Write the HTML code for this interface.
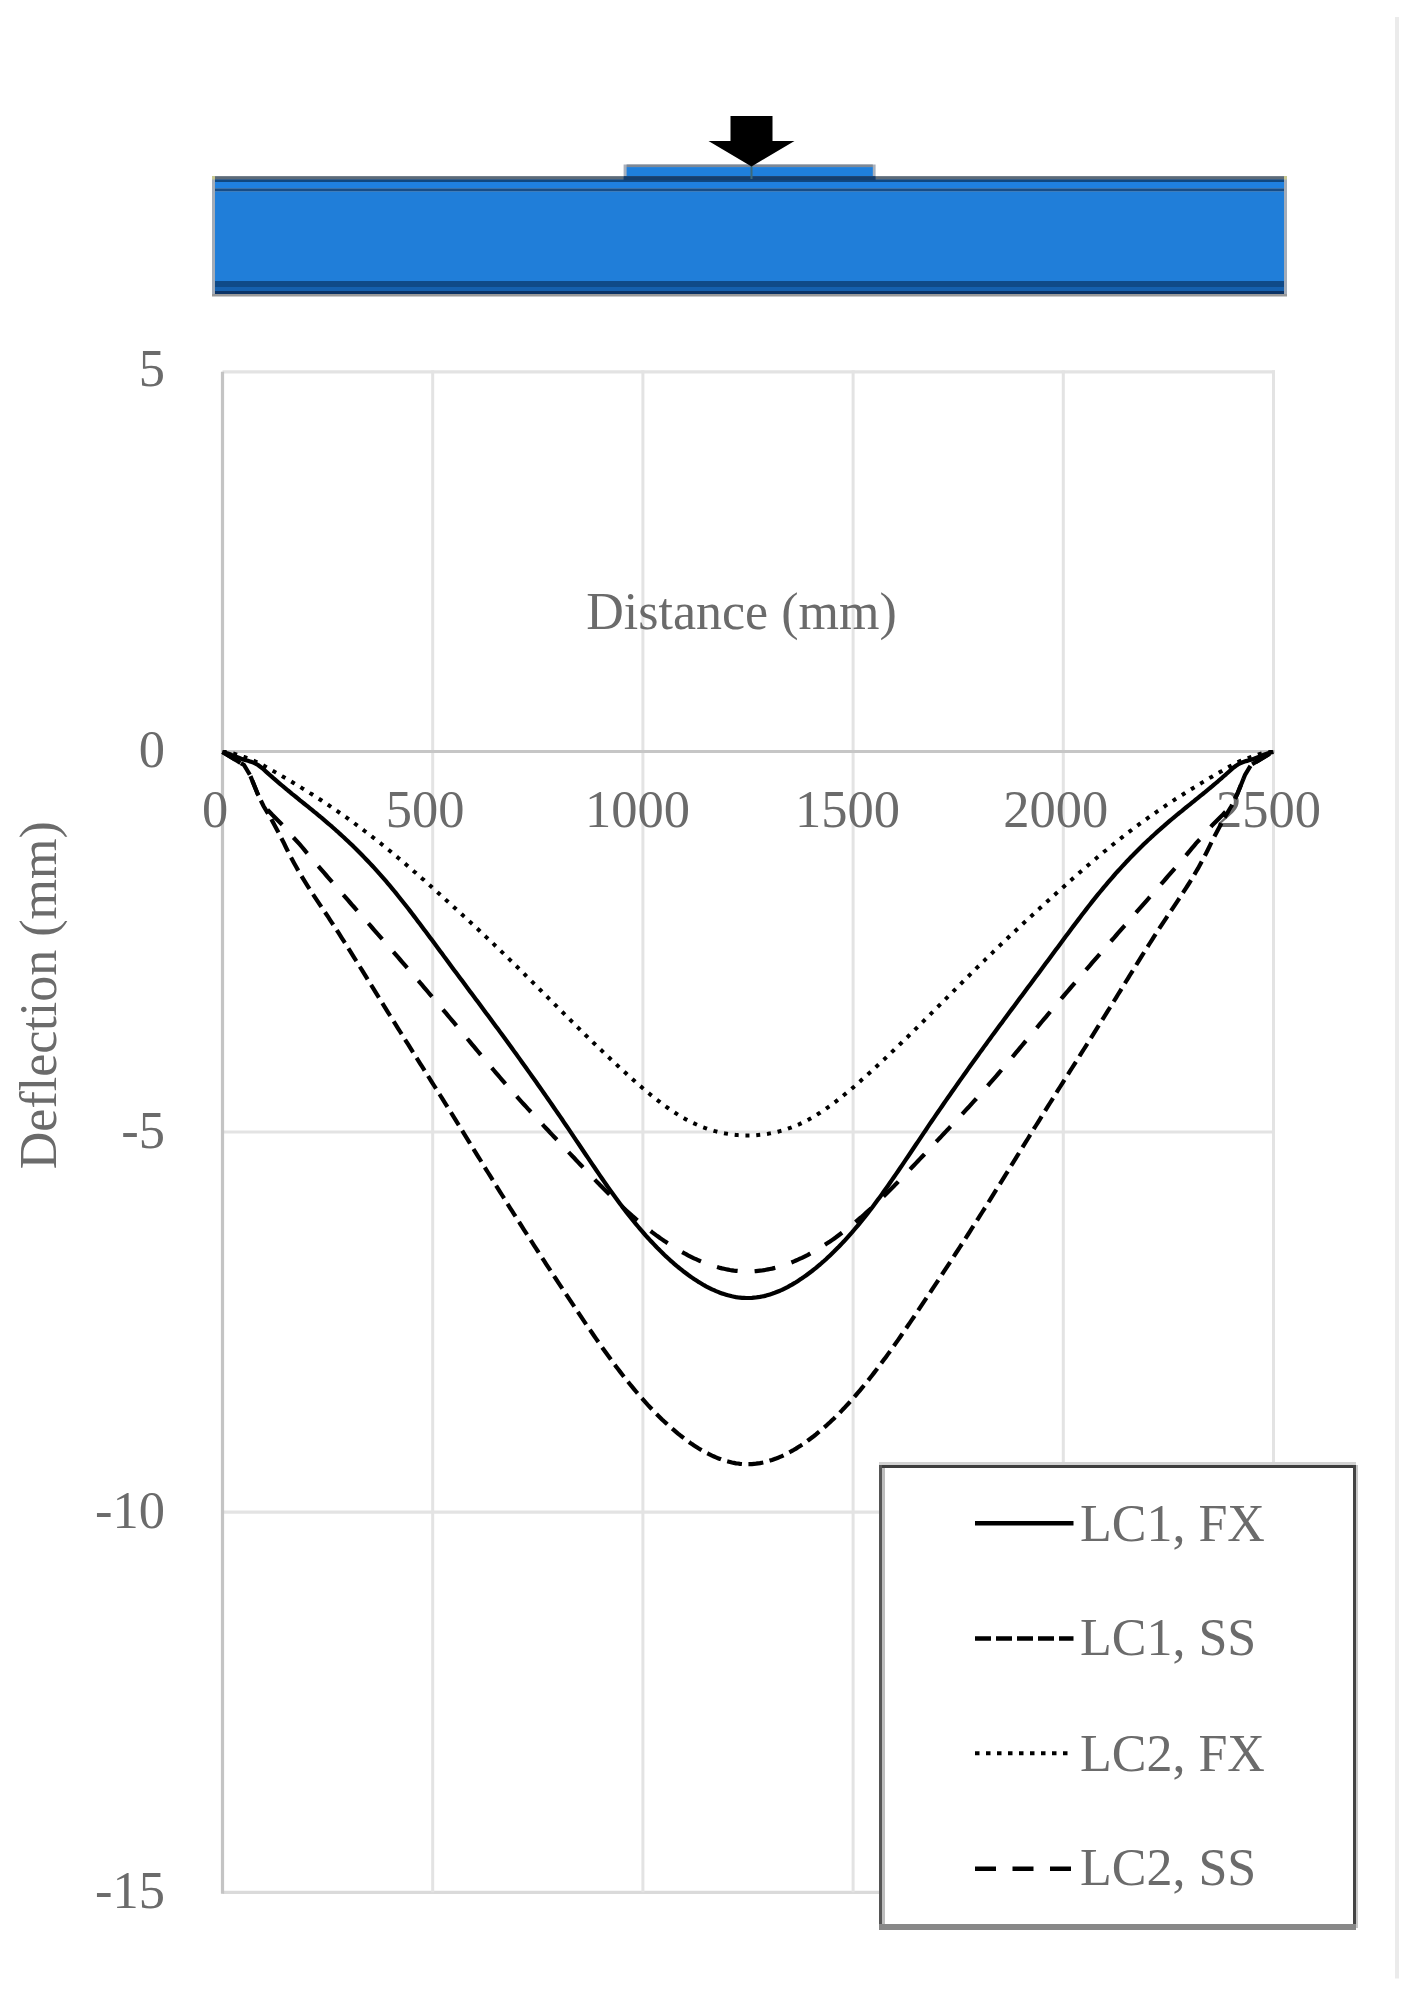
<!DOCTYPE html>
<html><head><meta charset="utf-8"><style>
html,body{margin:0;padding:0;background:#fff;}
body{width:1410px;height:1997px;overflow:hidden;}
svg{display:block;}
text{font-family:"Liberation Serif",serif;font-size:52px;fill:#6b6b6b;font-variant-ligatures:none;font-feature-settings:"liga" 0,"kern" 1;}
.ax{font-size:52.5px;}
</style></head><body>
<svg width="1410" height="1997" viewBox="0 0 1410 1997">
<rect width="1410" height="1997" fill="#fff"/>
<rect x="1395" y="17" width="4" height="1961.5" fill="#ebebeb"/>

<g>
<rect x="212" y="176" width="1075" height="120" fill="#a3acb8"/>
<rect x="215" y="176.3" width="1069" height="3" fill="#5d6b78"/>
<rect x="215" y="179.3" width="1069" height="2.7" fill="#10477f"/>
<rect x="215" y="182" width="1069" height="6.5" fill="#1f80e0"/>
<rect x="215" y="188.5" width="1069" height="3" fill="#174c86"/>
<rect x="215" y="191.5" width="1069" height="89.5" fill="#207ed9"/>
<rect x="215" y="281" width="1069" height="6" fill="#0f4a88"/>
<rect x="215" y="287" width="1069" height="4" fill="#1560ae"/>
<rect x="215" y="291" width="1069" height="3" fill="#0b3366"/>
<rect x="212" y="294" width="1075" height="2.5" fill="#999999"/>
<rect x="212" y="176" width="3" height="3.5" fill="#c8c890"/>
<rect x="1284" y="176" width="3" height="3.5" fill="#c8c890"/>
<rect x="623.6" y="164.5" width="252" height="12" fill="#a8b0bc"/>
<rect x="626.6" y="164.5" width="246.2" height="2.6" fill="#7d8896"/>
<rect x="626.6" y="167.1" width="246.2" height="9" fill="#1f7fdc"/>
<rect x="623.6" y="176.1" width="252" height="4" fill="#143e6e"/>
<rect x="750.5" y="166" width="2" height="13" fill="#3d6a7a"/>
<path d="M730.5,116 H772.5 V141 H794.5 L751.5,166.5 L708.5,141 H730.5 Z" fill="#000"/>
</g>
<line x1="222.5" y1="371.8" x2="1275.0" y2="371.8" stroke="#e3e3e3" stroke-width="3.2"/>
<line x1="222.5" y1="1132.0" x2="1275.0" y2="1132.0" stroke="#e3e3e3" stroke-width="3.2"/>
<line x1="222.5" y1="1512.2" x2="1275.0" y2="1512.2" stroke="#e3e3e3" stroke-width="3.2"/>
<line x1="222.5" y1="1892.3" x2="1275.0" y2="1892.3" stroke="#dadada" stroke-width="3.2"/>
<line x1="432.7" y1="370.3" x2="432.7" y2="1892.3" stroke="#e3e3e3" stroke-width="3"/>
<line x1="642.9" y1="370.3" x2="642.9" y2="1892.3" stroke="#e3e3e3" stroke-width="3"/>
<line x1="853.1" y1="370.3" x2="853.1" y2="1892.3" stroke="#e3e3e3" stroke-width="3"/>
<line x1="1063.3" y1="370.3" x2="1063.3" y2="1892.3" stroke="#e3e3e3" stroke-width="3"/>
<line x1="1273.5" y1="370.3" x2="1273.5" y2="1892.3" stroke="#e3e3e3" stroke-width="3"/>
<line x1="222.5" y1="371.8" x2="222.5" y2="1893.8" stroke="#c4c4c4" stroke-width="3.2"/>
<line x1="222.5" y1="751.4" x2="1275.0" y2="751.4" stroke="#c6c6c6" stroke-width="3"/>
<text x="741.5" y="629" text-anchor="middle">Distance (mm)</text>
<text transform="translate(56,995.2) rotate(-90)" text-anchor="middle">Deflection (mm)</text>
<text class="ax" x="165" y="386.0" text-anchor="end">5</text>
<text class="ax" x="165" y="766.5" text-anchor="end">0</text>
<text class="ax" x="165" y="1147.5" text-anchor="end">-5</text>
<text class="ax" x="165" y="1527.5" text-anchor="end">-10</text>
<text class="ax" x="165" y="1908.0" text-anchor="end">-15</text>
<text class="ax" x="215.0" y="827" text-anchor="middle">0</text>
<text class="ax" x="425.2" y="827" text-anchor="middle">500</text>
<text class="ax" x="637.4" y="827" text-anchor="middle">1000</text>
<text class="ax" x="847.6" y="827" text-anchor="middle">1500</text>
<text class="ax" x="1055.8" y="827" text-anchor="middle">2000</text>
<text class="ax" x="1268.5" y="827" text-anchor="middle">2500</text>
<path d="M222.5,752.0 L224.0,752.5 L226.0,753.0 L228.0,753.6 L230.0,754.3 L232.0,755.1 L234.0,755.9 L236.0,756.7 L238.0,757.5 L240.0,758.3 L242.0,759.1 L244.0,759.7 L246.0,760.3 L248.0,760.8 L250.0,761.4 L252.0,762.1 L254.0,762.9 L256.0,763.9 L258.0,765.0 L260.0,766.5 L262.0,768.0 L264.0,769.8 L266.0,771.6 L268.0,773.4 L270.0,775.2 L272.0,776.9 L274.0,778.7 L276.0,780.4 L278.0,782.1 L280.0,783.8 L282.0,785.5 L284.0,787.2 L286.0,788.8 L288.0,790.5 L290.0,792.1 L292.0,793.8 L294.0,795.4 L296.0,797.0 L298.0,798.6 L300.0,800.3 L302.0,801.9 L304.0,803.5 L306.0,805.1 L308.0,806.7 L310.0,808.3 L312.0,809.9 L314.0,811.6 L316.0,813.2 L318.0,814.9 L320.0,816.5 L322.0,818.2 L324.0,819.9 L326.0,821.6 L328.0,823.3 L330.0,825.0 L332.0,826.7 L334.0,828.5 L336.0,830.3 L338.0,832.0 L340.0,833.9 L342.0,835.7 L344.0,837.5 L346.0,839.4 L348.0,841.3 L350.0,843.2 L352.0,845.1 L354.0,847.1 L356.0,849.0 L358.0,851.0 L360.0,853.0 L362.0,855.0 L364.0,857.1 L366.0,859.2 L368.0,861.3 L370.0,863.4 L372.0,865.5 L374.0,867.7 L376.0,869.9 L378.0,872.1 L380.0,874.3 L382.0,876.6 L384.0,878.9 L386.0,881.2 L388.0,883.6 L390.0,885.9 L392.0,888.3 L394.0,890.8 L396.0,893.2 L398.0,895.7 L400.0,898.2 L402.0,900.7 L404.0,903.2 L406.0,905.8 L408.0,908.3 L410.0,910.9 L412.0,913.5 L414.0,916.1 L416.0,918.7 L418.0,921.4 L420.0,924.0 L422.0,926.7 L424.0,929.4 L426.0,932.0 L428.0,934.7 L430.0,937.4 L432.0,940.1 L434.0,942.8 L436.0,945.5 L438.0,948.2 L440.0,950.9 L442.0,953.6 L444.0,956.4 L446.0,959.1 L448.0,961.8 L450.0,964.5 L452.0,967.2 L454.0,969.9 L456.0,972.6 L458.0,975.2 L460.0,977.9 L462.0,980.6 L464.0,983.3 L466.0,986.0 L468.0,988.7 L470.0,991.4 L472.0,994.1 L474.0,996.7 L476.0,999.4 L478.0,1002.1 L480.0,1004.8 L482.0,1007.5 L484.0,1010.2 L486.0,1012.9 L488.0,1015.6 L490.0,1018.3 L492.0,1021.0 L494.0,1023.7 L496.0,1026.4 L498.0,1029.1 L500.0,1031.9 L502.0,1034.6 L504.0,1037.3 L506.0,1040.0 L508.0,1042.8 L510.0,1045.5 L512.0,1048.3 L514.0,1051.1 L516.0,1053.8 L518.0,1056.6 L520.0,1059.4 L522.0,1062.2 L524.0,1064.9 L526.0,1067.7 L528.0,1070.6 L530.0,1073.4 L532.0,1076.2 L534.0,1079.0 L536.0,1081.8 L538.0,1084.7 L540.0,1087.5 L542.0,1090.4 L544.0,1093.2 L546.0,1096.1 L548.0,1099.0 L550.0,1101.9 L552.0,1104.8 L554.0,1107.7 L556.0,1110.6 L558.0,1113.5 L560.0,1116.4 L562.0,1119.3 L564.0,1122.3 L566.0,1125.2 L568.0,1128.2 L570.0,1131.1 L572.0,1134.1 L574.0,1137.1 L576.0,1140.1 L578.0,1143.0 L580.0,1146.0 L582.0,1149.0 L584.0,1152.0 L586.0,1155.0 L588.0,1157.9 L590.0,1160.9 L592.0,1163.9 L594.0,1166.8 L596.0,1169.7 L598.0,1172.7 L600.0,1175.6 L602.0,1178.5 L604.0,1181.4 L606.0,1184.2 L608.0,1187.1 L610.0,1189.9 L612.0,1192.7 L614.0,1195.5 L616.0,1198.2 L618.0,1201.0 L620.0,1203.7 L622.0,1206.3 L624.0,1209.0 L626.0,1211.6 L628.0,1214.2 L630.0,1216.7 L632.0,1219.2 L634.0,1221.7 L636.0,1224.1 L638.0,1226.5 L640.0,1228.9 L642.0,1231.2 L644.0,1233.5 L646.0,1235.8 L648.0,1238.0 L650.0,1240.2 L652.0,1242.3 L654.0,1244.4 L656.0,1246.5 L658.0,1248.6 L660.0,1250.6 L662.0,1252.5 L664.0,1254.5 L666.0,1256.4 L668.0,1258.2 L670.0,1260.1 L672.0,1261.8 L674.0,1263.6 L676.0,1265.3 L678.0,1267.0 L680.0,1268.6 L682.0,1270.2 L684.0,1271.8 L686.0,1273.3 L688.0,1274.8 L690.0,1276.2 L692.0,1277.6 L694.0,1279.0 L696.0,1280.3 L698.0,1281.6 L700.0,1282.8 L702.0,1284.0 L704.0,1285.2 L706.0,1286.3 L708.0,1287.3 L710.0,1288.3 L712.0,1289.3 L714.0,1290.2 L716.0,1291.1 L718.0,1291.9 L720.0,1292.7 L722.0,1293.4 L724.0,1294.1 L726.0,1294.7 L728.0,1295.3 L730.0,1295.8 L732.0,1296.3 L734.0,1296.7 L736.0,1297.1 L738.0,1297.4 L740.0,1297.6 L742.0,1297.8 L744.0,1297.9 L746.0,1298.0 L748.0,1298.0 L750.0,1298.0 L752.0,1297.9 L754.0,1297.7 L756.0,1297.5 L758.0,1297.2 L760.0,1296.9 L762.0,1296.5 L764.0,1296.1 L766.0,1295.6 L768.0,1295.0 L770.0,1294.4 L772.0,1293.8 L774.0,1293.1 L776.0,1292.3 L778.0,1291.5 L780.0,1290.7 L782.0,1289.8 L784.0,1288.8 L786.0,1287.8 L788.0,1286.8 L790.0,1285.7 L792.0,1284.6 L794.0,1283.4 L796.0,1282.2 L798.0,1280.9 L800.0,1279.6 L802.0,1278.3 L804.0,1276.9 L806.0,1275.5 L808.0,1274.0 L810.0,1272.5 L812.0,1271.0 L814.0,1269.4 L816.0,1267.8 L818.0,1266.1 L820.0,1264.5 L822.0,1262.7 L824.0,1261.0 L826.0,1259.2 L828.0,1257.3 L830.0,1255.4 L832.0,1253.5 L834.0,1251.6 L836.0,1249.6 L838.0,1247.6 L840.0,1245.5 L842.0,1243.4 L844.0,1241.3 L846.0,1239.1 L848.0,1236.9 L850.0,1234.6 L852.0,1232.4 L854.0,1230.0 L856.0,1227.7 L858.0,1225.3 L860.0,1222.9 L862.0,1220.4 L864.0,1218.0 L866.0,1215.4 L868.0,1212.9 L870.0,1210.3 L872.0,1207.7 L874.0,1205.0 L876.0,1202.3 L878.0,1199.6 L880.0,1196.9 L882.0,1194.1 L884.0,1191.3 L886.0,1188.5 L888.0,1185.7 L890.0,1182.8 L892.0,1179.9 L894.0,1177.0 L896.0,1174.1 L898.0,1171.2 L900.0,1168.3 L902.0,1165.3 L904.0,1162.4 L906.0,1159.4 L908.0,1156.5 L910.0,1153.5 L912.0,1150.5 L914.0,1147.5 L916.0,1144.5 L918.0,1141.6 L920.0,1138.6 L922.0,1135.6 L924.0,1132.6 L926.0,1129.7 L928.0,1126.7 L930.0,1123.7 L932.0,1120.8 L934.0,1117.9 L936.0,1114.9 L938.0,1112.0 L940.0,1109.1 L942.0,1106.2 L944.0,1103.3 L946.0,1100.4 L948.0,1097.5 L950.0,1094.7 L952.0,1091.8 L954.0,1089.0 L956.0,1086.1 L958.0,1083.3 L960.0,1080.4 L962.0,1077.6 L964.0,1074.8 L966.0,1072.0 L968.0,1069.1 L970.0,1066.3 L972.0,1063.6 L974.0,1060.8 L976.0,1058.0 L978.0,1055.2 L980.0,1052.4 L982.0,1049.7 L984.0,1046.9 L986.0,1044.2 L988.0,1041.4 L990.0,1038.7 L992.0,1035.9 L994.0,1033.2 L996.0,1030.5 L998.0,1027.8 L1000.0,1025.1 L1002.0,1022.4 L1004.0,1019.6 L1006.0,1016.9 L1008.0,1014.2 L1010.0,1011.5 L1012.0,1008.9 L1014.0,1006.2 L1016.0,1003.5 L1018.0,1000.8 L1020.0,998.1 L1022.0,995.4 L1024.0,992.7 L1026.0,990.0 L1028.0,987.3 L1030.0,984.7 L1032.0,982.0 L1034.0,979.3 L1036.0,976.6 L1038.0,973.9 L1040.0,971.2 L1042.0,968.5 L1044.0,965.8 L1046.0,963.1 L1048.0,960.4 L1050.0,957.7 L1052.0,955.0 L1054.0,952.3 L1056.0,949.6 L1058.0,946.9 L1060.0,944.2 L1062.0,941.5 L1064.0,938.8 L1066.0,936.1 L1068.0,933.4 L1070.0,930.7 L1072.0,928.0 L1074.0,925.4 L1076.0,922.7 L1078.0,920.1 L1080.0,917.4 L1082.0,914.8 L1084.0,912.2 L1086.0,909.6 L1088.0,907.0 L1090.0,904.5 L1092.0,901.9 L1094.0,899.4 L1096.0,896.9 L1098.0,894.4 L1100.0,892.0 L1102.0,889.6 L1104.0,887.1 L1106.0,884.8 L1108.0,882.4 L1110.0,880.1 L1112.0,877.8 L1114.0,875.5 L1116.0,873.2 L1118.0,871.0 L1120.0,868.8 L1122.0,866.6 L1124.0,864.5 L1126.0,862.3 L1128.0,860.2 L1130.0,858.1 L1132.0,856.1 L1134.0,854.0 L1136.0,852.0 L1138.0,850.0 L1140.0,848.0 L1142.0,846.1 L1144.0,844.1 L1146.0,842.2 L1148.0,840.3 L1150.0,838.5 L1152.0,836.6 L1154.0,834.8 L1156.0,832.9 L1158.0,831.1 L1160.0,829.4 L1162.0,827.6 L1164.0,825.9 L1166.0,824.1 L1168.0,822.4 L1170.0,820.7 L1172.0,819.0 L1174.0,817.3 L1176.0,815.7 L1178.0,814.0 L1180.0,812.4 L1182.0,810.8 L1184.0,809.1 L1186.0,807.5 L1188.0,805.9 L1190.0,804.3 L1192.0,802.7 L1194.0,801.1 L1196.0,799.4 L1198.0,797.8 L1200.0,796.2 L1202.0,794.6 L1204.0,793.0 L1206.0,791.3 L1208.0,789.7 L1210.0,788.0 L1212.0,786.4 L1214.0,784.7 L1216.0,783.0 L1218.0,781.3 L1220.0,779.5 L1222.0,777.8 L1224.0,776.0 L1226.0,774.3 L1228.0,772.5 L1230.0,770.7 L1232.0,768.9 L1234.0,767.2 L1236.0,765.7 L1238.0,764.4 L1240.0,763.4 L1242.0,762.5 L1244.0,761.8 L1246.0,761.1 L1248.0,760.6 L1250.0,760.0 L1252.0,759.4 L1254.0,758.7 L1256.0,757.9 L1258.0,757.1 L1260.0,756.3 L1262.0,755.5 L1264.0,754.7 L1266.0,753.9 L1268.0,753.3 L1270.0,752.7 L1272.0,752.3 L1273.5,752.0" fill="none" stroke="#000" stroke-width="4.2" stroke-linejoin="round"/>
<path d="M222.5,752.0 L226.0,752.1 L228.0,752.4 L230.0,752.8 L232.0,753.2 L234.0,753.7 L236.0,754.3 L238.0,755.0 L240.0,755.6 L242.0,756.3 L244.0,757.0 L246.0,757.7 L248.0,758.4 L250.0,759.2 L252.0,760.0 L254.0,760.8 L256.0,761.7 L258.0,762.6 L260.0,763.6 L262.0,764.7 L264.0,765.8 L266.0,766.9 L268.0,768.0 L270.0,769.2 L272.0,770.3 L274.0,771.4 L276.0,772.6 L278.0,773.8 L280.0,774.9 L282.0,776.1 L284.0,777.3 L286.0,778.4 L288.0,779.6 L290.0,780.8 L292.0,782.0 L294.0,783.2 L296.0,784.4 L298.0,785.6 L300.0,786.8 L302.0,788.1 L304.0,789.3 L306.0,790.5 L308.0,791.8 L310.0,793.1 L312.0,794.3 L314.0,795.6 L316.0,796.9 L318.0,798.2 L320.0,799.5 L322.0,800.8 L324.0,802.1 L326.0,803.4 L328.0,804.8 L330.0,806.1 L332.0,807.5 L334.0,808.8 L336.0,810.2 L338.0,811.6 L340.0,813.0 L342.0,814.4 L344.0,815.8 L346.0,817.2 L348.0,818.6 L350.0,820.1 L352.0,821.5 L354.0,823.0 L356.0,824.5 L358.0,826.0 L360.0,827.4 L362.0,828.9 L364.0,830.5 L366.0,832.0 L368.0,833.5 L370.0,835.1 L372.0,836.6 L374.0,838.2 L376.0,839.7 L378.0,841.3 L380.0,842.9 L382.0,844.5 L384.0,846.1 L386.0,847.7 L388.0,849.4 L390.0,851.0 L392.0,852.7 L394.0,854.3 L396.0,856.0 L398.0,857.7 L400.0,859.3 L402.0,861.0 L404.0,862.7 L406.0,864.4 L408.0,866.2 L410.0,867.9 L412.0,869.6 L414.0,871.4 L416.0,873.1 L418.0,874.9 L420.0,876.6 L422.0,878.4 L424.0,880.1 L426.0,881.9 L428.0,883.7 L430.0,885.5 L432.0,887.3 L434.0,889.1 L436.0,890.9 L438.0,892.7 L440.0,894.5 L442.0,896.3 L444.0,898.1 L446.0,899.9 L448.0,901.7 L450.0,903.5 L452.0,905.4 L454.0,907.2 L456.0,909.0 L458.0,910.8 L460.0,912.7 L462.0,914.5 L464.0,916.4 L466.0,918.2 L468.0,920.0 L470.0,921.9 L472.0,923.8 L474.0,925.6 L476.0,927.5 L478.0,929.3 L480.0,931.2 L482.0,933.1 L484.0,935.0 L486.0,936.9 L488.0,938.7 L490.0,940.6 L492.0,942.5 L494.0,944.4 L496.0,946.4 L498.0,948.3 L500.0,950.2 L502.0,952.1 L504.0,954.0 L506.0,956.0 L508.0,957.9 L510.0,959.9 L512.0,961.8 L514.0,963.8 L516.0,965.8 L518.0,967.7 L520.0,969.7 L522.0,971.7 L524.0,973.7 L526.0,975.7 L528.0,977.6 L530.0,979.6 L532.0,981.6 L534.0,983.6 L536.0,985.6 L538.0,987.6 L540.0,989.6 L542.0,991.7 L544.0,993.7 L546.0,995.7 L548.0,997.7 L550.0,999.7 L552.0,1001.7 L554.0,1003.7 L556.0,1005.7 L558.0,1007.7 L560.0,1009.7 L562.0,1011.7 L564.0,1013.7 L566.0,1015.7 L568.0,1017.7 L570.0,1019.7 L572.0,1021.7 L574.0,1023.7 L576.0,1025.6 L578.0,1027.6 L580.0,1029.6 L582.0,1031.6 L584.0,1033.5 L586.0,1035.5 L588.0,1037.4 L590.0,1039.4 L592.0,1041.3 L594.0,1043.3 L596.0,1045.2 L598.0,1047.1 L600.0,1049.0 L602.0,1050.9 L604.0,1052.9 L606.0,1054.8 L608.0,1056.6 L610.0,1058.5 L612.0,1060.4 L614.0,1062.3 L616.0,1064.1 L618.0,1066.0 L620.0,1067.8 L622.0,1069.7 L624.0,1071.5 L626.0,1073.3 L628.0,1075.2 L630.0,1077.0 L632.0,1078.7 L634.0,1080.5 L636.0,1082.3 L638.0,1084.0 L640.0,1085.8 L642.0,1087.5 L644.0,1089.2 L646.0,1090.9 L648.0,1092.6 L650.0,1094.2 L652.0,1095.9 L654.0,1097.5 L656.0,1099.1 L658.0,1100.6 L660.0,1102.1 L662.0,1103.7 L664.0,1105.1 L666.0,1106.6 L668.0,1108.0 L670.0,1109.4 L672.0,1110.8 L674.0,1112.1 L676.0,1113.4 L678.0,1114.7 L680.0,1115.9 L682.0,1117.1 L684.0,1118.2 L686.0,1119.4 L688.0,1120.4 L690.0,1121.5 L692.0,1122.5 L694.0,1123.4 L696.0,1124.3 L698.0,1125.2 L700.0,1126.1 L702.0,1126.9 L704.0,1127.6 L706.0,1128.3 L708.0,1129.0 L710.0,1129.7 L712.0,1130.3 L714.0,1130.9 L716.0,1131.4 L718.0,1131.9 L720.0,1132.4 L722.0,1132.8 L724.0,1133.2 L726.0,1133.6 L728.0,1133.9 L730.0,1134.2 L732.0,1134.5 L734.0,1134.7 L736.0,1134.9 L738.0,1135.1 L740.0,1135.2 L742.0,1135.3 L744.0,1135.4 L746.0,1135.4 L748.0,1135.4 L750.0,1135.4 L752.0,1135.4 L754.0,1135.3 L756.0,1135.2 L758.0,1135.0 L760.0,1134.8 L762.0,1134.6 L764.0,1134.4 L766.0,1134.1 L768.0,1133.8 L770.0,1133.4 L772.0,1133.0 L774.0,1132.6 L776.0,1132.2 L778.0,1131.7 L780.0,1131.1 L782.0,1130.6 L784.0,1130.0 L786.0,1129.4 L788.0,1128.7 L790.0,1128.0 L792.0,1127.2 L794.0,1126.5 L796.0,1125.6 L798.0,1124.8 L800.0,1123.9 L802.0,1122.9 L804.0,1122.0 L806.0,1121.0 L808.0,1119.9 L810.0,1118.8 L812.0,1117.7 L814.0,1116.5 L816.0,1115.3 L818.0,1114.0 L820.0,1112.8 L822.0,1111.4 L824.0,1110.1 L826.0,1108.7 L828.0,1107.3 L830.0,1105.9 L832.0,1104.4 L834.0,1102.9 L836.0,1101.4 L838.0,1099.8 L840.0,1098.3 L842.0,1096.7 L844.0,1095.0 L846.0,1093.4 L848.0,1091.7 L850.0,1090.1 L852.0,1088.4 L854.0,1086.7 L856.0,1084.9 L858.0,1083.2 L860.0,1081.4 L862.0,1079.6 L864.0,1077.9 L866.0,1076.1 L868.0,1074.2 L870.0,1072.4 L872.0,1070.6 L874.0,1068.8 L876.0,1066.9 L878.0,1065.1 L880.0,1063.2 L882.0,1061.3 L884.0,1059.5 L886.0,1057.6 L888.0,1055.7 L890.0,1053.8 L892.0,1051.9 L894.0,1050.0 L896.0,1048.1 L898.0,1046.2 L900.0,1044.2 L902.0,1042.3 L904.0,1040.3 L906.0,1038.4 L908.0,1036.5 L910.0,1034.5 L912.0,1032.5 L914.0,1030.6 L916.0,1028.6 L918.0,1026.6 L920.0,1024.6 L922.0,1022.7 L924.0,1020.7 L926.0,1018.7 L928.0,1016.7 L930.0,1014.7 L932.0,1012.7 L934.0,1010.7 L936.0,1008.7 L938.0,1006.7 L940.0,1004.7 L942.0,1002.7 L944.0,1000.7 L946.0,998.7 L948.0,996.7 L950.0,994.7 L952.0,992.7 L954.0,990.6 L956.0,988.6 L958.0,986.6 L960.0,984.6 L962.0,982.6 L964.0,980.6 L966.0,978.6 L968.0,976.7 L970.0,974.7 L972.0,972.7 L974.0,970.7 L976.0,968.7 L978.0,966.7 L980.0,964.8 L982.0,962.8 L984.0,960.9 L986.0,958.9 L988.0,957.0 L990.0,955.0 L992.0,953.1 L994.0,951.1 L996.0,949.2 L998.0,947.3 L1000.0,945.4 L1002.0,943.5 L1004.0,941.6 L1006.0,939.7 L1008.0,937.8 L1010.0,935.9 L1012.0,934.0 L1014.0,932.1 L1016.0,930.3 L1018.0,928.4 L1020.0,926.5 L1022.0,924.7 L1024.0,922.8 L1026.0,921.0 L1028.0,919.1 L1030.0,917.3 L1032.0,915.4 L1034.0,913.6 L1036.0,911.8 L1038.0,909.9 L1040.0,908.1 L1042.0,906.3 L1044.0,904.5 L1046.0,902.6 L1048.0,900.8 L1050.0,899.0 L1052.0,897.2 L1054.0,895.4 L1056.0,893.6 L1058.0,891.8 L1060.0,890.0 L1062.0,888.2 L1064.0,886.4 L1066.0,884.6 L1068.0,882.8 L1070.0,881.0 L1072.0,879.3 L1074.0,877.5 L1076.0,875.7 L1078.0,874.0 L1080.0,872.2 L1082.0,870.5 L1084.0,868.8 L1086.0,867.0 L1088.0,865.3 L1090.0,863.6 L1092.0,861.9 L1094.0,860.2 L1096.0,858.5 L1098.0,856.8 L1100.0,855.1 L1102.0,853.5 L1104.0,851.8 L1106.0,850.2 L1108.0,848.5 L1110.0,846.9 L1112.0,845.3 L1114.0,843.7 L1116.0,842.1 L1118.0,840.5 L1120.0,838.9 L1122.0,837.4 L1124.0,835.8 L1126.0,834.3 L1128.0,832.7 L1130.0,831.2 L1132.0,829.7 L1134.0,828.2 L1136.0,826.7 L1138.0,825.2 L1140.0,823.7 L1142.0,822.3 L1144.0,820.8 L1146.0,819.4 L1148.0,817.9 L1150.0,816.5 L1152.0,815.1 L1154.0,813.7 L1156.0,812.3 L1158.0,810.9 L1160.0,809.5 L1162.0,808.1 L1164.0,806.8 L1166.0,805.4 L1168.0,804.1 L1170.0,802.8 L1172.0,801.4 L1174.0,800.1 L1176.0,798.8 L1178.0,797.5 L1180.0,796.2 L1182.0,795.0 L1184.0,793.7 L1186.0,792.4 L1188.0,791.2 L1190.0,789.9 L1192.0,788.7 L1194.0,787.5 L1196.0,786.2 L1198.0,785.0 L1200.0,783.8 L1202.0,782.6 L1204.0,781.4 L1206.0,780.2 L1208.0,779.0 L1210.0,777.8 L1212.0,776.7 L1214.0,775.5 L1216.0,774.3 L1218.0,773.2 L1220.0,772.0 L1222.0,770.9 L1224.0,769.7 L1226.0,768.6 L1228.0,767.4 L1230.0,766.3 L1232.0,765.2 L1234.0,764.1 L1236.0,763.1 L1238.0,762.1 L1240.0,761.2 L1242.0,760.4 L1244.0,759.6 L1246.0,758.8 L1248.0,758.1 L1250.0,757.4 L1252.0,756.7 L1254.0,756.0 L1256.0,755.3 L1258.0,754.6 L1260.0,754.0 L1262.0,753.5 L1264.0,753.0 L1266.0,752.6 L1268.0,752.3 L1270.0,752.0 L1273.5,752.0" fill="none" stroke="#000" stroke-width="4" stroke-dasharray="4,6.8"/>
<path d="M222.5,752.0 L244.0,765.0 L250.0,775.0 L257.7,794.0 L263.5,806.0 L271.0,818.5 L278.2,832.0 L284.0,843.3 L286.0,847.5 L288.0,851.5 L290.0,855.5 L292.0,859.3 L294.0,863.0 L296.0,866.6 L298.0,870.1 L300.0,873.5 L302.0,876.9 L304.0,880.2 L306.0,883.4 L308.0,886.6 L310.0,889.7 L312.0,892.8 L314.0,895.8 L316.0,898.8 L318.0,901.8 L320.0,904.8 L322.0,907.8 L324.0,910.8 L326.0,913.7 L328.0,916.7 L330.0,919.8 L332.0,922.8 L334.0,925.9 L336.0,929.0 L338.0,932.0 L340.0,935.2 L342.0,938.3 L344.0,941.4 L346.0,944.6 L348.0,947.7 L350.0,950.9 L352.0,954.1 L354.0,957.3 L356.0,960.5 L358.0,963.7 L360.0,967.0 L362.0,970.2 L364.0,973.4 L366.0,976.7 L368.0,979.9 L370.0,983.2 L372.0,986.4 L374.0,989.6 L376.0,992.9 L378.0,996.1 L380.0,999.4 L382.0,1002.6 L384.0,1005.8 L386.0,1009.1 L388.0,1012.3 L390.0,1015.5 L392.0,1018.7 L394.0,1021.9 L396.0,1025.1 L398.0,1028.3 L400.0,1031.5 L402.0,1034.7 L404.0,1037.9 L406.0,1041.1 L408.0,1044.2 L410.0,1047.4 L412.0,1050.6 L414.0,1053.8 L416.0,1056.9 L418.0,1060.1 L420.0,1063.3 L422.0,1066.4 L424.0,1069.6 L426.0,1072.8 L428.0,1075.9 L430.0,1079.1 L432.0,1082.3 L434.0,1085.5 L436.0,1088.6 L438.0,1091.8 L440.0,1095.0 L442.0,1098.2 L444.0,1101.4 L446.0,1104.6 L448.0,1107.8 L450.0,1111.0 L452.0,1114.2 L454.0,1117.4 L456.0,1120.7 L458.0,1123.9 L460.0,1127.1 L462.0,1130.4 L464.0,1133.6 L466.0,1136.8 L468.0,1140.1 L470.0,1143.3 L472.0,1146.6 L474.0,1149.8 L476.0,1153.1 L478.0,1156.3 L480.0,1159.5 L482.0,1162.8 L484.0,1166.0 L486.0,1169.3 L488.0,1172.5 L490.0,1175.7 L492.0,1178.9 L494.0,1182.2 L496.0,1185.4 L498.0,1188.6 L500.0,1191.8 L502.0,1195.0 L504.0,1198.2 L506.0,1201.4 L508.0,1204.6 L510.0,1207.8 L512.0,1210.9 L514.0,1214.1 L516.0,1217.2 L518.0,1220.4 L520.0,1223.5 L522.0,1226.7 L524.0,1229.8 L526.0,1232.9 L528.0,1236.0 L530.0,1239.1 L532.0,1242.2 L534.0,1245.3 L536.0,1248.4 L538.0,1251.5 L540.0,1254.6 L542.0,1257.7 L544.0,1260.7 L546.0,1263.8 L548.0,1266.8 L550.0,1269.9 L552.0,1272.9 L554.0,1276.0 L556.0,1279.0 L558.0,1282.1 L560.0,1285.1 L562.0,1288.1 L564.0,1291.2 L566.0,1294.2 L568.0,1297.2 L570.0,1300.2 L572.0,1303.2 L574.0,1306.2 L576.0,1309.2 L578.0,1312.2 L580.0,1315.2 L582.0,1318.2 L584.0,1321.1 L586.0,1324.1 L588.0,1327.0 L590.0,1329.9 L592.0,1332.8 L594.0,1335.7 L596.0,1338.6 L598.0,1341.5 L600.0,1344.3 L602.0,1347.2 L604.0,1350.0 L606.0,1352.8 L608.0,1355.5 L610.0,1358.3 L612.0,1361.0 L614.0,1363.7 L616.0,1366.4 L618.0,1369.0 L620.0,1371.6 L622.0,1374.2 L624.0,1376.8 L626.0,1379.3 L628.0,1381.8 L630.0,1384.3 L632.0,1386.7 L634.0,1389.1 L636.0,1391.5 L638.0,1393.8 L640.0,1396.2 L642.0,1398.4 L644.0,1400.7 L646.0,1402.9 L648.0,1405.1 L650.0,1407.2 L652.0,1409.3 L654.0,1411.4 L656.0,1413.4 L658.0,1415.4 L660.0,1417.4 L662.0,1419.4 L664.0,1421.3 L666.0,1423.1 L668.0,1424.9 L670.0,1426.7 L672.0,1428.5 L674.0,1430.2 L676.0,1431.9 L678.0,1433.6 L680.0,1435.2 L682.0,1436.7 L684.0,1438.3 L686.0,1439.8 L688.0,1441.2 L690.0,1442.7 L692.0,1444.1 L694.0,1445.4 L696.0,1446.7 L698.0,1448.0 L700.0,1449.2 L702.0,1450.4 L704.0,1451.5 L706.0,1452.6 L708.0,1453.6 L710.0,1454.6 L712.0,1455.6 L714.0,1456.5 L716.0,1457.4 L718.0,1458.2 L720.0,1458.9 L722.0,1459.7 L724.0,1460.3 L726.0,1461.0 L728.0,1461.5 L730.0,1462.0 L732.0,1462.5 L734.0,1462.9 L736.0,1463.3 L738.0,1463.5 L740.0,1463.8 L742.0,1464.0 L744.0,1464.1 L746.0,1464.2 L748.0,1464.2 L750.0,1464.2 L752.0,1464.1 L754.0,1463.9 L756.0,1463.7 L758.0,1463.4 L760.0,1463.1 L762.0,1462.7 L764.0,1462.3 L766.0,1461.8 L768.0,1461.2 L770.0,1460.6 L772.0,1460.0 L774.0,1459.3 L776.0,1458.6 L778.0,1457.8 L780.0,1456.9 L782.0,1456.1 L784.0,1455.1 L786.0,1454.1 L788.0,1453.1 L790.0,1452.0 L792.0,1450.9 L794.0,1449.8 L796.0,1448.6 L798.0,1447.3 L800.0,1446.1 L802.0,1444.7 L804.0,1443.4 L806.0,1442.0 L808.0,1440.5 L810.0,1439.0 L812.0,1437.5 L814.0,1436.0 L816.0,1434.4 L818.0,1432.7 L820.0,1431.1 L822.0,1429.4 L824.0,1427.6 L826.0,1425.9 L828.0,1424.0 L830.0,1422.2 L832.0,1420.3 L834.0,1418.4 L836.0,1416.4 L838.0,1414.4 L840.0,1412.4 L842.0,1410.4 L844.0,1408.3 L846.0,1406.1 L848.0,1404.0 L850.0,1401.8 L852.0,1399.6 L854.0,1397.3 L856.0,1395.0 L858.0,1392.7 L860.0,1390.3 L862.0,1387.9 L864.0,1385.5 L866.0,1383.0 L868.0,1380.6 L870.0,1378.0 L872.0,1375.5 L874.0,1372.9 L876.0,1370.3 L878.0,1367.7 L880.0,1365.0 L882.0,1362.3 L884.0,1359.6 L886.0,1356.9 L888.0,1354.1 L890.0,1351.4 L892.0,1348.6 L894.0,1345.8 L896.0,1342.9 L898.0,1340.1 L900.0,1337.2 L902.0,1334.3 L904.0,1331.4 L906.0,1328.5 L908.0,1325.5 L910.0,1322.6 L912.0,1319.6 L914.0,1316.7 L916.0,1313.7 L918.0,1310.7 L920.0,1307.7 L922.0,1304.7 L924.0,1301.7 L926.0,1298.7 L928.0,1295.7 L930.0,1292.7 L932.0,1289.6 L934.0,1286.6 L936.0,1283.6 L938.0,1280.6 L940.0,1277.5 L942.0,1274.5 L944.0,1271.4 L946.0,1268.4 L948.0,1265.3 L950.0,1262.3 L952.0,1259.2 L954.0,1256.1 L956.0,1253.0 L958.0,1250.0 L960.0,1246.9 L962.0,1243.8 L964.0,1240.7 L966.0,1237.6 L968.0,1234.5 L970.0,1231.3 L972.0,1228.2 L974.0,1225.1 L976.0,1222.0 L978.0,1218.8 L980.0,1215.7 L982.0,1212.5 L984.0,1209.3 L986.0,1206.2 L988.0,1203.0 L990.0,1199.8 L992.0,1196.6 L994.0,1193.4 L996.0,1190.2 L998.0,1187.0 L1000.0,1183.8 L1002.0,1180.6 L1004.0,1177.3 L1006.0,1174.1 L1008.0,1170.9 L1010.0,1167.6 L1012.0,1164.4 L1014.0,1161.2 L1016.0,1157.9 L1018.0,1154.7 L1020.0,1151.4 L1022.0,1148.2 L1024.0,1144.9 L1026.0,1141.7 L1028.0,1138.5 L1030.0,1135.2 L1032.0,1132.0 L1034.0,1128.7 L1036.0,1125.5 L1038.0,1122.3 L1040.0,1119.1 L1042.0,1115.8 L1044.0,1112.6 L1046.0,1109.4 L1048.0,1106.2 L1050.0,1103.0 L1052.0,1099.8 L1054.0,1096.6 L1056.0,1093.4 L1058.0,1090.2 L1060.0,1087.0 L1062.0,1083.9 L1064.0,1080.7 L1066.0,1077.5 L1068.0,1074.3 L1070.0,1071.2 L1072.0,1068.0 L1074.0,1064.8 L1076.0,1061.7 L1078.0,1058.5 L1080.0,1055.3 L1082.0,1052.2 L1084.0,1049.0 L1086.0,1045.8 L1088.0,1042.7 L1090.0,1039.5 L1092.0,1036.3 L1094.0,1033.1 L1096.0,1029.9 L1098.0,1026.7 L1100.0,1023.5 L1102.0,1020.3 L1104.0,1017.1 L1106.0,1013.9 L1108.0,1010.7 L1110.0,1007.5 L1112.0,1004.2 L1114.0,1001.0 L1116.0,997.8 L1118.0,994.5 L1120.0,991.3 L1122.0,988.0 L1124.0,984.8 L1126.0,981.5 L1128.0,978.3 L1130.0,975.0 L1132.0,971.8 L1134.0,968.6 L1136.0,965.4 L1138.0,962.1 L1140.0,958.9 L1142.0,955.7 L1144.0,952.5 L1146.0,949.3 L1148.0,946.2 L1150.0,943.0 L1152.0,939.9 L1154.0,936.7 L1156.0,933.6 L1158.0,930.5 L1160.0,927.4 L1162.0,924.3 L1164.0,921.3 L1166.0,918.3 L1168.0,915.2 L1170.0,912.3 L1172.0,909.3 L1174.0,906.3 L1176.0,903.3 L1178.0,900.3 L1180.0,897.3 L1182.0,894.3 L1184.0,891.2 L1186.0,888.1 L1188.0,885.0 L1190.0,881.8 L1192.0,878.6 L1194.0,875.2 L1196.0,871.8 L1198.0,868.4 L1200.0,864.8 L1202.0,861.1 L1204.0,857.4 L1206.0,853.5 L1208.0,849.5 L1210.0,845.4 L1212.0,841.1 L1216.8,832.0 L1224.0,818.5 L1231.5,806.0 L1237.3,794.0 L1245.0,775.0 L1251.0,765.0 L1272.5,752.0" fill="none" stroke="#000" stroke-width="4.2" stroke-dasharray="15,6.5"/>
<path d="M222.5,752.0 L244.0,765.0 L250.0,775.0 L257.7,794.0 L263.5,805.5 L272.0,814.5 L283.0,825.5 L292.0,836.0 L300.0,844.6 L302.0,847.0 L304.0,849.4 L306.0,851.8 L308.0,854.1 L310.0,856.5 L312.0,858.8 L314.0,861.2 L316.0,863.5 L318.0,865.8 L320.0,868.1 L322.0,870.4 L324.0,872.7 L326.0,875.0 L328.0,877.3 L330.0,879.6 L332.0,881.9 L334.0,884.2 L336.0,886.5 L338.0,888.8 L340.0,891.1 L342.0,893.4 L344.0,895.6 L346.0,897.9 L348.0,900.2 L350.0,902.5 L352.0,904.8 L354.0,907.0 L356.0,909.3 L358.0,911.6 L360.0,913.9 L362.0,916.1 L364.0,918.4 L366.0,920.7 L368.0,923.0 L370.0,925.2 L372.0,927.5 L374.0,929.8 L376.0,932.1 L378.0,934.3 L380.0,936.6 L382.0,938.9 L384.0,941.2 L386.0,943.5 L388.0,945.7 L390.0,948.0 L392.0,950.3 L394.0,952.6 L396.0,954.9 L398.0,957.2 L400.0,959.5 L402.0,961.8 L404.0,964.1 L406.0,966.4 L408.0,968.7 L410.0,971.0 L412.0,973.3 L414.0,975.7 L416.0,978.0 L418.0,980.3 L420.0,982.6 L422.0,984.9 L424.0,987.3 L426.0,989.6 L428.0,992.0 L430.0,994.3 L432.0,996.6 L434.0,999.0 L436.0,1001.4 L438.0,1003.7 L440.0,1006.1 L442.0,1008.4 L444.0,1010.8 L446.0,1013.2 L448.0,1015.6 L450.0,1018.0 L452.0,1020.4 L454.0,1022.7 L456.0,1025.1 L458.0,1027.5 L460.0,1029.9 L462.0,1032.3 L464.0,1034.7 L466.0,1037.1 L468.0,1039.5 L470.0,1041.9 L472.0,1044.3 L474.0,1046.7 L476.0,1049.1 L478.0,1051.5 L480.0,1053.9 L482.0,1056.3 L484.0,1058.7 L486.0,1061.1 L488.0,1063.4 L490.0,1065.8 L492.0,1068.1 L494.0,1070.5 L496.0,1072.8 L498.0,1075.1 L500.0,1077.5 L502.0,1079.8 L504.0,1082.1 L506.0,1084.4 L508.0,1086.6 L510.0,1088.9 L512.0,1091.2 L514.0,1093.4 L516.0,1095.6 L518.0,1097.9 L520.0,1100.1 L522.0,1102.3 L524.0,1104.5 L526.0,1106.7 L528.0,1108.9 L530.0,1111.0 L532.0,1113.2 L534.0,1115.4 L536.0,1117.5 L538.0,1119.7 L540.0,1121.8 L542.0,1123.9 L544.0,1126.1 L546.0,1128.2 L548.0,1130.3 L550.0,1132.5 L552.0,1134.6 L554.0,1136.7 L556.0,1138.8 L558.0,1140.9 L560.0,1143.0 L562.0,1145.2 L564.0,1147.3 L566.0,1149.4 L568.0,1151.5 L570.0,1153.6 L572.0,1155.7 L574.0,1157.8 L576.0,1160.0 L578.0,1162.1 L580.0,1164.2 L582.0,1166.3 L584.0,1168.4 L586.0,1170.5 L588.0,1172.6 L590.0,1174.7 L592.0,1176.7 L594.0,1178.8 L596.0,1180.9 L598.0,1182.9 L600.0,1185.0 L602.0,1187.0 L604.0,1189.0 L606.0,1191.0 L608.0,1193.0 L610.0,1195.0 L612.0,1196.9 L614.0,1198.9 L616.0,1200.8 L618.0,1202.7 L620.0,1204.6 L622.0,1206.5 L624.0,1208.4 L626.0,1210.2 L628.0,1212.0 L630.0,1213.8 L632.0,1215.6 L634.0,1217.3 L636.0,1219.1 L638.0,1220.8 L640.0,1222.5 L642.0,1224.1 L644.0,1225.8 L646.0,1227.4 L648.0,1229.0 L650.0,1230.5 L652.0,1232.1 L654.0,1233.6 L656.0,1235.1 L658.0,1236.5 L660.0,1238.0 L662.0,1239.4 L664.0,1240.8 L666.0,1242.1 L668.0,1243.5 L670.0,1244.8 L672.0,1246.1 L674.0,1247.3 L676.0,1248.5 L678.0,1249.7 L680.0,1250.9 L682.0,1252.1 L684.0,1253.2 L686.0,1254.2 L688.0,1255.3 L690.0,1256.3 L692.0,1257.3 L694.0,1258.3 L696.0,1259.2 L698.0,1260.1 L700.0,1261.0 L702.0,1261.8 L704.0,1262.6 L706.0,1263.4 L708.0,1264.1 L710.0,1264.8 L712.0,1265.5 L714.0,1266.1 L716.0,1266.7 L718.0,1267.3 L720.0,1267.9 L722.0,1268.4 L724.0,1268.8 L726.0,1269.2 L728.0,1269.6 L730.0,1270.0 L732.0,1270.3 L734.0,1270.6 L736.0,1270.8 L738.0,1271.0 L740.0,1271.2 L742.0,1271.3 L744.0,1271.4 L746.0,1271.5 L748.0,1271.5 L750.0,1271.5 L752.0,1271.4 L754.0,1271.3 L756.0,1271.1 L758.0,1270.9 L760.0,1270.7 L762.0,1270.5 L764.0,1270.2 L766.0,1269.8 L768.0,1269.4 L770.0,1269.0 L772.0,1268.6 L774.0,1268.1 L776.0,1267.6 L778.0,1267.0 L780.0,1266.5 L782.0,1265.8 L784.0,1265.2 L786.0,1264.5 L788.0,1263.8 L790.0,1263.0 L792.0,1262.2 L794.0,1261.4 L796.0,1260.5 L798.0,1259.7 L800.0,1258.7 L802.0,1257.8 L804.0,1256.8 L806.0,1255.8 L808.0,1254.8 L810.0,1253.7 L812.0,1252.6 L814.0,1251.5 L816.0,1250.3 L818.0,1249.2 L820.0,1247.9 L822.0,1246.7 L824.0,1245.4 L826.0,1244.1 L828.0,1242.8 L830.0,1241.5 L832.0,1240.1 L834.0,1238.7 L836.0,1237.3 L838.0,1235.8 L840.0,1234.3 L842.0,1232.8 L844.0,1231.3 L846.0,1229.7 L848.0,1228.2 L850.0,1226.6 L852.0,1224.9 L854.0,1223.3 L856.0,1221.6 L858.0,1219.9 L860.0,1218.2 L862.0,1216.5 L864.0,1214.7 L866.0,1212.9 L868.0,1211.1 L870.0,1209.3 L872.0,1207.4 L874.0,1205.6 L876.0,1203.7 L878.0,1201.8 L880.0,1199.9 L882.0,1197.9 L884.0,1196.0 L886.0,1194.0 L888.0,1192.0 L890.0,1190.0 L892.0,1188.0 L894.0,1186.0 L896.0,1183.9 L898.0,1181.9 L900.0,1179.8 L902.0,1177.8 L904.0,1175.7 L906.0,1173.6 L908.0,1171.5 L910.0,1169.4 L912.0,1167.3 L914.0,1165.2 L916.0,1163.1 L918.0,1161.0 L920.0,1158.9 L922.0,1156.8 L924.0,1154.7 L926.0,1152.6 L928.0,1150.4 L930.0,1148.3 L932.0,1146.2 L934.0,1144.1 L936.0,1142.0 L938.0,1139.9 L940.0,1137.8 L942.0,1135.6 L944.0,1133.5 L946.0,1131.4 L948.0,1129.3 L950.0,1127.1 L952.0,1125.0 L954.0,1122.9 L956.0,1120.7 L958.0,1118.6 L960.0,1116.4 L962.0,1114.3 L964.0,1112.1 L966.0,1109.9 L968.0,1107.8 L970.0,1105.6 L972.0,1103.4 L974.0,1101.2 L976.0,1099.0 L978.0,1096.8 L980.0,1094.5 L982.0,1092.3 L984.0,1090.0 L986.0,1087.8 L988.0,1085.5 L990.0,1083.2 L992.0,1080.9 L994.0,1078.6 L996.0,1076.3 L998.0,1074.0 L1000.0,1071.7 L1002.0,1069.3 L1004.0,1067.0 L1006.0,1064.6 L1008.0,1062.2 L1010.0,1059.9 L1012.0,1057.5 L1014.0,1055.1 L1016.0,1052.7 L1018.0,1050.3 L1020.0,1047.9 L1022.0,1045.5 L1024.0,1043.1 L1026.0,1040.7 L1028.0,1038.3 L1030.0,1035.9 L1032.0,1033.5 L1034.0,1031.1 L1036.0,1028.7 L1038.0,1026.3 L1040.0,1023.9 L1042.0,1021.5 L1044.0,1019.2 L1046.0,1016.8 L1048.0,1014.4 L1050.0,1012.0 L1052.0,1009.6 L1054.0,1007.3 L1056.0,1004.9 L1058.0,1002.5 L1060.0,1000.2 L1062.0,997.8 L1064.0,995.5 L1066.0,993.1 L1068.0,990.8 L1070.0,988.5 L1072.0,986.1 L1074.0,983.8 L1076.0,981.5 L1078.0,979.1 L1080.0,976.8 L1082.0,974.5 L1084.0,972.2 L1086.0,969.9 L1088.0,967.6 L1090.0,965.3 L1092.0,962.9 L1094.0,960.6 L1096.0,958.3 L1098.0,956.1 L1100.0,953.8 L1102.0,951.5 L1104.0,949.2 L1106.0,946.9 L1108.0,944.6 L1110.0,942.3 L1112.0,940.0 L1114.0,937.8 L1116.0,935.5 L1118.0,933.2 L1120.0,930.9 L1122.0,928.6 L1124.0,926.4 L1126.0,924.1 L1128.0,921.8 L1130.0,919.5 L1132.0,917.3 L1134.0,915.0 L1136.0,912.7 L1138.0,910.4 L1140.0,908.2 L1142.0,905.9 L1144.0,903.6 L1146.0,901.3 L1148.0,899.1 L1150.0,896.8 L1152.0,894.5 L1154.0,892.2 L1156.0,889.9 L1158.0,887.7 L1160.0,885.4 L1162.0,883.1 L1164.0,880.8 L1166.0,878.5 L1168.0,876.2 L1170.0,873.9 L1172.0,871.6 L1174.0,869.3 L1176.0,867.0 L1178.0,864.7 L1180.0,862.3 L1182.0,860.0 L1184.0,857.7 L1186.0,855.3 L1188.0,853.0 L1190.0,850.6 L1192.0,848.2 L1194.0,845.8 L1196.0,843.4 L1203.0,836.0 L1212.0,825.5 L1223.0,814.5 L1231.5,805.5 L1237.3,794.0 L1245.0,775.0 L1251.0,765.0 L1272.5,752.0" fill="none" stroke="#000" stroke-width="4.2" stroke-dasharray="21,17"/>
<g fill="#fff"><rect x="880" y="1463" width="476" height="465"/></g>

<g>
<rect x="879" y="1462" width="477" height="3" fill="#d2d2d2"/>
<rect x="879" y="1465" width="477" height="3" fill="#3e3e3e"/>
<rect x="879" y="1465" width="3" height="463" fill="#555555"/>
<rect x="882" y="1468" width="3" height="457" fill="#bdbdbd"/>
<rect x="1353" y="1465" width="3" height="463" fill="#444444"/>
<rect x="1356" y="1465" width="2" height="463" fill="#c8c8c8"/>
<rect x="879" y="1924" width="477" height="6" fill="#888888"/>
<line x1="975" y1="1523.3" x2="1073.5" y2="1523.3" stroke="#000" stroke-width="4.5"/>
<line x1="975" y1="1638.6" x2="1073.5" y2="1638.6" stroke="#000" stroke-width="4.5" stroke-dasharray="16,5"/>
<line x1="975" y1="1753.3" x2="1069" y2="1753.3" stroke="#000" stroke-width="4" stroke-dasharray="4.5,6.5"/>
<line x1="975" y1="1868.7" x2="1073.5" y2="1868.7" stroke="#000" stroke-width="4.5" stroke-dasharray="21,16.5"/>
<text x="1080" y="1541">LC1, FX</text>
<text x="1080" y="1655">LC1, SS</text>
<text x="1080" y="1771">LC2, FX</text>
<text x="1080" y="1885">LC2, SS</text>
</g>
</svg>
</body></html>
